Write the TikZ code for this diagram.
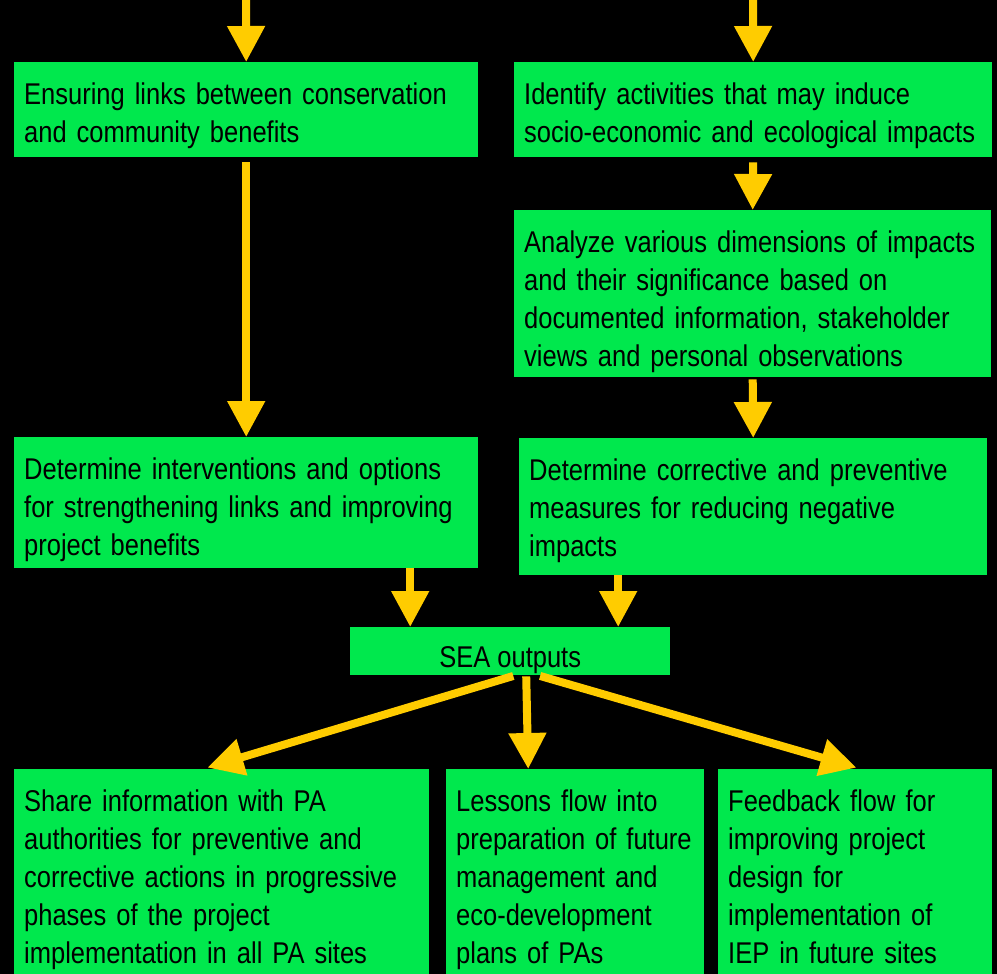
\documentclass[tikz,border=0pt]{standalone}
\usepackage{fontspec}
\setmainfont{Liberation Sans}[FakeStretch=0.85]
\usetikzlibrary{arrows.meta}

\definecolor{boxgreen}{RGB}{0,232,77}
\definecolor{flowyellow}{RGB}{255,204,0}

\tikzset{
  greenbox/.style={fill=boxgreen, anchor=north west, align=left, inner xsep=10pt, inner ysep=0pt,
    text height=42pt, font=\fontsize{30}{38}\selectfont},
  flow/.style={draw=flowyellow, fill=flowyellow, line width=8pt, -{Triangle[width=36pt,length=36pt]}}
}

\begin{document}
\begin{tikzpicture}[x=1pt,y=-1pt]
      % black page
      \fill[black] (0,0) rectangle (997,974);
      \useasboundingbox (0,0) rectangle (997,974);
      \clip (0,0) rectangle (997,974);

      % incoming arrows from above the page
      \coordinate (inleft) at (246,0);
      \coordinate (inright) at (753,0);

      % row 1
      \node (ensuring) at (14,62) [greenbox, text width=444pt, text depth=53pt]
        {Ensuring links between conservation\\and community benefits};
      \node (identify) at (514,62) [greenbox, text width=458pt, text depth=53pt]
        {Identify activities that may induce\\socio-economic and ecological impacts};

      % row 2
      \node (analyze) at (514,210) [greenbox, text width=457pt, text depth=125pt]
        {Analyze various dimensions of impacts\\and their significance based on\\documented information, stakeholder\\views and personal observations};

      % row 3
      \node (interventions) at (14,437) [greenbox, text width=444pt, text depth=89pt]
        {Determine interventions and options\\for strengthening links and improving\\project benefits};
      \node (corrective) at (519,438) [greenbox, text width=448pt, text depth=95pt]
        {Determine corrective and preventive\\measures for reducing negative\\impacts};

      % SEA outputs
      \node (outputs) at (350,627) [greenbox, align=center, inner xsep=0pt, minimum width=320pt,
        minimum height=48pt, text height=32pt, text depth=0pt] {SEA outputs};

      % bottom row (runs off the page)
      \node (share) at (14,769) [greenbox, text width=395pt, text depth=176pt]
        {Share information with PA\\authorities for preventive and\\corrective actions in progressive\\phases of the project\\implementation in all PA sites};
      \node (lessons) at (446,769) [greenbox, text width=238pt, text depth=176pt]
        {Lessons flow into\\preparation of future\\management and\\eco-development\\plans of PAs};
      \node (feedback) at (718,769) [greenbox, text width=254pt, text depth=176pt]
        {Feedback flow for\\improving project\\design for\\implementation of\\IEP in future sites};

      % arrows
      \draw[flow] (inleft) -- (ensuring.north);
      \draw[flow] (inright) -- (identify.north);
      \draw[flow, shorten <=5pt] (ensuring.south) -- (interventions.north);
      \draw[flow, shorten <=5pt] (identify.south) -- (analyze.north);
      \draw[flow, shorten <=2pt] (analyze.south) -- (corrective.north);
      \draw[flow] ([xshift=164pt]interventions.south) -- ([xshift=-100pt]outputs.north);
      \draw[flow] ([xshift=-135pt]corrective.south) -- ([xshift=108pt]outputs.north);
      \draw[flow, shorten <=2pt, shorten >=5pt] ([xshift=5pt]outputs.south) -- ([xshift=-19pt]share.north);
      \draw[flow, shorten <=1pt] ([xshift=16pt]outputs.south) -- ([xshift=-47pt]lessons.north);
      \draw[flow, shorten <=2pt, shorten >=5pt] ([xshift=28pt]outputs.south) -- ([xshift=6pt]feedback.north);
\end{tikzpicture}
\end{document}
